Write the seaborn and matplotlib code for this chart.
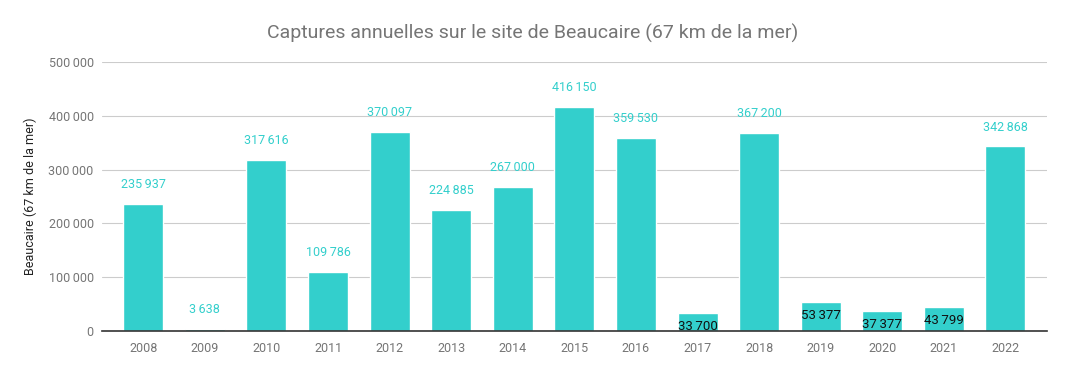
import matplotlib
matplotlib.use("Agg")
import matplotlib.pyplot as plt
import seaborn as sns
import pandas as pd

years = ["2008", "2009", "2010", "2011", "2012", "2013", "2014", "2015",
         "2016", "2017", "2018", "2019", "2020", "2021", "2022"]
captures = [235937, 3638, 317616, 109786, 370097, 224885, 267000, 416150,
            359530, 33700, 367200, 53377, 37377, 43799, 342868]
yticks = [0, 100000, 200000, 300000, 400000, 500000]


def fmt(v):
    return "{:,}".format(v).replace(",", "\u202f")


sns.set_theme(style="white")
plt.rcParams['font.family'] = ['Roboto', 'DejaVu Sans']

df = pd.DataFrame({"annee": years, "captures": captures})

fig = plt.figure(figsize=(10.65, 3.71), dpi=100)
ax = fig.add_axes([0.0958, 0.108, 0.887, 0.725])

sns.barplot(data=df, x="annee", y="captures", color="#33CFCC", saturation=1,
            width=0.65, ax=ax)

ax.set_ylim(0, 500000)
ax.set_yticks(yticks)
ax.set_yticklabels([fmt(v) for v in yticks], color="#757575", fontsize=9)
ax.tick_params(axis="x", colors="#757575", labelsize=9, length=0, pad=8)
ax.tick_params(axis="y", length=0, pad=6)
ax.yaxis.grid(True, color="#cccccc", linewidth=0.8)
ax.set_axisbelow(True)
for s in ["top", "right", "left"]:
    ax.spines[s].set_visible(False)
ax.spines["bottom"].set_color("#333333")
ax.spines["bottom"].set_linewidth(1.2)
ax.set_xlim(-0.67, len(years) - 0.33)

ax.set_xlabel("")
ax.set_ylabel("Beaucaire (67 km de la mer)", fontsize=9, color="#222222", labelpad=8)

for i, v in enumerate(captures):
    if 20000 < v < 100000:
        ax.annotate(fmt(v), (i, v), xytext=(0, -5), textcoords="offset points",
                    ha="center", va="top", fontsize=9.5, color="#111111")
    else:
        ax.annotate(fmt(v), (i, v), xytext=(0, 14), textcoords="offset points",
                    ha="center", va="center", fontsize=9, color="#33CFCC")

fig.text(0.5, 0.91, "Captures annuelles sur le site de Beaucaire (67 km de la mer)",
         ha="center", va="center", fontsize=14, color="#757575")

fig.savefig("out.png", dpi=100)
